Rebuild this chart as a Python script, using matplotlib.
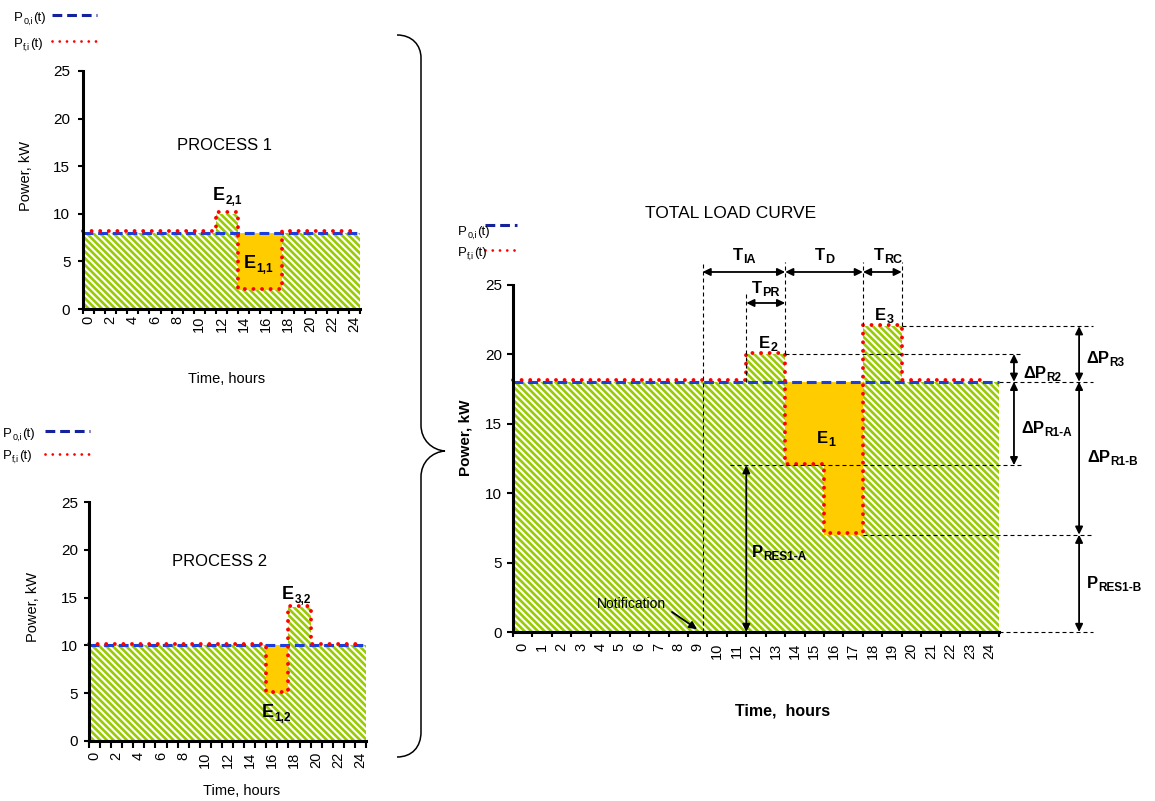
import numpy as np
import matplotlib
matplotlib.use("Agg")
import matplotlib.pyplot as plt
import matplotlib.transforms as mtransforms
from matplotlib.path import Path
from matplotlib.patches import PathPatch, ArrowStyle

plt.rcParams["font.family"] = ["Liberation Sans", "DejaVu Sans"]
plt.rcParams["hatch.linewidth"] = 1.9

# ---------------------------------------------------------------- data
hours = list(range(25))

# Process 1: baseline schedule and flexible schedule (kW)
p1_base = [8] * 25
p1_final = [8] * 12 + [10, 10] + [2, 2, 2, 2] + [8] * 7

# Process 2
p2_base = [10] * 25
p2_final = [10] * 16 + [5, 5] + [14, 14] + [10] * 5

# Aggregated load
tot_base = [18] * 25
tot_final = [18] * 12 + [20, 20] + [12, 12] + [7, 7] + [22, 22] + [18] * 5

# Event timing (hours) and power levels (kW) on the aggregated curve
t_notify = 9.75
t_pr_start = 12
t_d_start = 14
t_rc_start = 18
t_rc_end = 20
p_base_level = 18
p_r2_level = 20
p_r3_level = 22
p_res_a = 12
p_res_b = 7

# ---------------------------------------------------------------- style
GREEN = "#99cc00"
ORANGE = "#ffcc00"
RED = "#ff0000"
BLUE = "#1a3fdc"
NAVY = "#14239b"
HATCH = "\\" * 5
W, H = 1155, 801

fig = plt.figure(figsize=(W / 100, H / 100), dpi=100)


def px_axes(left, top, right, bottom):
    return fig.add_axes([left / W, 1 - bottom / H, (right - left) / W, (bottom - top) / H])


ax1 = px_axes(83, 71, 360, 309)
ax2 = px_axes(89, 502, 366, 741)
axt = px_axes(513, 284.5, 999, 632)


def draw_load(ax, base, final):
    base = np.asarray(base, float)
    final = np.asarray(final, float)
    x = np.arange(len(base))
    ax.bar(x, final, width=1, align="edge", color="white", edgecolor=GREEN,
           linewidth=0, hatch=HATCH, zorder=1)
    cut = np.clip(base - final, 0, None)
    ax.bar(x, cut, bottom=final, width=1, align="edge", color=ORANGE,
           linewidth=0, zorder=2)
    edges = np.arange(len(base) + 1, dtype=float)
    ax.plot(edges, np.append(base, base[-1]), drawstyle="steps-post", color=BLUE,
            lw=2.2, dashes=(3.2, 1.6), zorder=3, clip_on=False)
    red_edges = edges.copy()
    red_edges[-1] = len(base) - 0.55
    lifted = mtransforms.offset_copy(ax.transData, fig=fig, y=1.0, units="points")
    ax.plot(red_edges, np.append(final, final[-1]), drawstyle="steps-post",
            color=RED, lw=2.8, linestyle=(0, (0.01, 2.2)), dash_capstyle="round",
            transform=lifted, zorder=4, clip_on=False)


def style_axes(ax, step, xpad, ypad, xlen, ylen):
    ax.set_xlim(0, 25)
    ax.set_ylim(0, 25)
    ax.patch.set_alpha(0)
    for s in ("top", "right"):
        ax.spines[s].set_visible(False)
    for s in ("left", "bottom"):
        ax.spines[s].set_linewidth(2.2)
        ax.spines[s].set_zorder(6)
    ax.set_yticks(range(0, 26, 5))
    ax.set_xticks(np.arange(26))
    ax.set_xticklabels([])
    ax.set_xticks(np.array(hours) + 0.5, minor=True)
    ax.set_xticklabels([str(h) if h % step == 0 else "" for h in hours],
                       minor=True, rotation=90)
    ax.tick_params(axis="x", which="major", direction="out", length=xlen, width=1.5)
    ax.tick_params(axis="x", which="minor", length=0, pad=xpad, labelsize=10.5)
    ax.tick_params(axis="y", direction="out", length=ylen, width=1.5, pad=ypad,
                   labelsize=11)


draw_load(ax1, p1_base, p1_final)
draw_load(ax2, p2_base, p2_final)
draw_load(axt, tot_base, tot_final)
style_axes(ax1, 2, 5, 5.5, 3.6, 3.6)
style_axes(ax2, 2, 8, 4.3, 5, 3.6)
style_axes(axt, 1, 8, 3.6, 3.6, 4.3)

# ---------------------------------------------------------------- guides on the aggregated curve
guide = dict(color="black", lw=0.8, dashes=(3.6, 2.7), clip_on=False, zorder=5)
axt.plot([t_notify] * 2, [0, 26.6], **guide)
axt.plot([t_pr_start] * 2, [p_base_level, 24.3], **guide)
axt.plot([t_d_start] * 2, [p_r2_level, 26.6], **guide)
axt.plot([t_rc_start] * 2, [p_r3_level, 26.6], **guide)
axt.plot([t_rc_end] * 2, [p_r3_level, 26.6], **guide)

axt.plot([t_rc_end, 29.84], [p_r3_level] * 2, **guide)
axt.plot([t_d_start, 26.23], [p_r2_level] * 2, **guide)
axt.plot([25, 29.84], [p_base_level] * 2, **guide)
axt.plot([11.16, 26.23], [p_res_a] * 2, **guide)
axt.plot([t_rc_start, 29.84], [p_res_b] * 2, **guide)
axt.plot([25, 29.84], [0, 0], **guide)

both = ArrowStyle("<|-|>", head_length=0.45, head_width=0.22)
one = ArrowStyle("-|>", head_length=0.45, head_width=0.22)


def arrow(p0, p1, style=both):
    axt.annotate("", xy=p1, xytext=p0, annotation_clip=False,
                 arrowprops=dict(arrowstyle=style, lw=1.3, color="black",
                                 shrinkA=0, shrinkB=0, mutation_scale=10))


y_t = 25.9
y_pr = 23.67
x_a = 25.77
x_b = 29.12
arrow((t_notify, y_t), (t_d_start, y_t))
arrow((t_d_start, y_t), (t_rc_start, y_t))
arrow((t_rc_start, y_t), (t_rc_end, y_t))
arrow((t_pr_start, y_pr), (t_d_start, y_pr))
arrow((x_a, p_base_level), (x_a, p_r2_level))
arrow((x_a, p_base_level), (x_a, p_res_a))
arrow((x_b, p_base_level), (x_b, p_r3_level))
arrow((x_b, p_base_level), (x_b, p_res_b))
arrow((x_b, p_res_b), (x_b, 0))
arrow((t_pr_start, 0), (t_pr_start, p_res_a))
arrow((8.18, 1.44), (9.47, 0.2), one)

# ---------------------------------------------------------------- text layer (pixel coordinates)
ov = fig.add_axes([0, 0, 1, 1])
ov.set_xlim(0, W)
ov.set_ylim(H, 0)
ov.axis("off")


def sub_text(x, y, parts, size, sub_size, weight="normal"):
    first = ov.text(x, y, parts[0], fontsize=size, fontweight=weight,
                    ha="left", va="baseline")
    prev = first
    for i, txt in enumerate(parts[1:], start=1):
        if i % 2 == 1:
            a = ov.annotate(txt, xy=(1, 0), xycoords=(prev, first),
                            xytext=(0.2, 0), textcoords="offset points",
                            fontsize=sub_size, fontweight=weight,
                            ha="left", va="baseline")
        else:
            a = ov.annotate(txt, xy=(1, 0), xycoords=(prev, first),
                            xytext=(0.2, 0), textcoords="offset points",
                            fontsize=size, fontweight=weight,
                            ha="left", va="bottom")
        prev = a
    return first


# legends
def legend(x, y1, y2, lx0, lx1, ly1, ly2):
    sub_text(x, y1, ["P", "0,i", "(t)"], 9.5, 6.5)
    sub_text(x, y2, ["P", "f,i", "(t)"], 9.5, 6.5)
    ov.plot([lx0, lx1], [ly1, ly1], color=NAVY, lw=2.2, dashes=(3.2, 1.6))
    ov.plot([lx0, lx1], [ly2, ly2], color=RED, lw=2.0,
            linestyle=(0, (0.01, 2.6)), dash_capstyle="round")


legend(14, 21, 47, 52, 97, 15, 41)
legend(3, 437, 459, 45, 90, 431, 454)
legend(458, 235, 256, 485, 517, 225, 250)

# titles and axis labels
ov.text(177, 150, "PROCESS 1", fontsize=12, ha="left", va="baseline")
ov.text(172, 566, "PROCESS 2", fontsize=12, ha="left", va="baseline")
ov.text(645, 218, "TOTAL LOAD CURVE", fontsize=12.5, ha="left", va="baseline")

ov.text(26, 176, "Power, kW", fontsize=10.5, rotation=90, ha="center", va="center")
ov.text(33, 607, "Power, kW", fontsize=10.5, rotation=90, ha="center", va="center")
ov.text(465, 438, "Power, kW", fontsize=11, fontweight="bold", rotation=90,
        ha="center", va="center")
ov.text(227, 383, "Time, hours", fontsize=10.5, ha="center", va="baseline")
ov.text(242, 795, "Time, hours", fontsize=10.5, ha="center", va="baseline")
ov.text(783, 715, "Time,  hours", fontsize=11.5, fontweight="bold",
        ha="center", va="baseline")
ov.text(597, 608, "Notification", fontsize=10, ha="left", va="baseline")

# event labels
B = "bold"
sub_text(213, 200, ["E", "2,1"], 13, 8.5, B)
sub_text(244, 268, ["E", "1,1"], 13, 8.5, B)
sub_text(282, 599, ["E", "3,2"], 13, 8.5, B)
sub_text(262, 717, ["E", "1,2"], 13, 8.5, B)

sub_text(733, 260, ["T", "IA"], 12, 9, B)
sub_text(815, 260, ["T", "D"], 12, 9, B)
sub_text(874, 260, ["T", "RC"], 12, 9, B)
sub_text(752, 293, ["T", "PR"], 12, 9, B)
sub_text(759, 348, ["E", "2"], 12, 9, B)
sub_text(875, 320, ["E", "3"], 12, 9, B)
sub_text(817, 443, ["E", "1"], 12, 9, B)

sub_text(1086, 363, ["ΔP", "R3"], 12, 8.5, B)
sub_text(1023, 378, ["ΔP", "R2"], 12, 8.5, B)
sub_text(1021, 433, ["ΔP", "R1-A"], 12, 8.5, B)
sub_text(1087, 462, ["ΔP", "R1-B"], 12, 8.5, B)
sub_text(1087, 588, ["P", "RES1-B"], 12, 8.5, B)
sub_text(752, 557, ["P", "RES1-A"], 12, 8.5, B)

# curly brace joining the two process charts to the total
verts = [
    (397, 35),
    (412, 35), (421, 45), (421, 58),
    (421, 425),
    (421, 440), (432, 450), (445, 451),
    (432, 452), (421, 462), (421, 477),
    (421, 732),
    (421, 747), (412, 757), (397, 757),
]
codes = ([Path.MOVETO] + [Path.CURVE4] * 3 + [Path.LINETO] + [Path.CURVE4] * 6
         + [Path.LINETO] + [Path.CURVE4] * 3)
ov.add_patch(PathPatch(Path(verts, codes), fill=False, lw=1.1, edgecolor="black"))

fig.savefig("out.png", dpi=100)
